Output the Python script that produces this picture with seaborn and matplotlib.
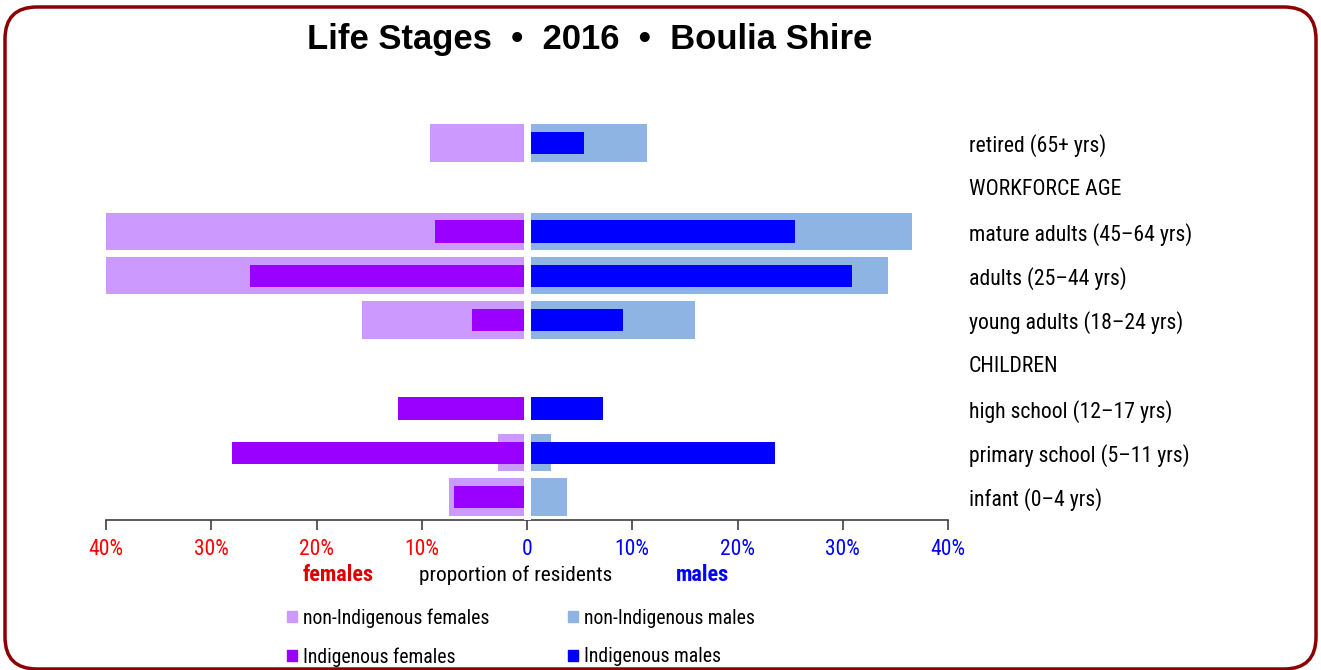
import matplotlib
matplotlib.use("Agg")
import matplotlib.pyplot as plt
from matplotlib.patches import Patch, FancyBboxPatch
import seaborn as sns

categories = ["retired (65+ yrs)", "WORKFORCE AGE", "mature adults (45\u201364 yrs)",
              "adults (25\u201344 yrs)", "young adults (18\u201324 yrs)", "CHILDREN",
              "high school (12\u201317 yrs)", "primary school (5\u201311 yrs)", "infant (0\u20134 yrs)"]
non_indig_females = [9.2, 0, 40.0, 40.0, 15.7, 0, 0, 2.8, 7.4]
indig_females = [0, 0, 8.7, 26.3, 5.2, 0, 12.3, 28.0, 6.9]
non_indig_males = [11.4, 0, 36.6, 34.3, 16.0, 0, 0, 2.3, 3.8]
indig_males = [5.4, 0, 25.5, 30.9, 9.1, 0, 7.2, 23.6, 0]

tick_vals = [-40, -30, -20, -10, 0, 10, 20, 30, 40]
tick_labels = ["40%", "30%", "20%", "10%", "0", "10%", "20%", "30%", "40%"]

c_nif, c_if = "#CC99FF", "#9900FF"
c_nim, c_im = "#8DB4E2", "#0000FF"

sns.set_style("white")
plt.rcParams['font.family'] = ['Roboto Condensed', 'Archivo Narrow', 'DejaVu Sans']
plt.rcParams['text.color'] = 'black'
plt.rcParams['xtick.color'] = 'black'
plt.rcParams['ytick.color'] = 'black'

fig = plt.figure(figsize=(13.21, 6.70), dpi=100)
ax = fig.add_axes([106/1321, 1 - 520/670, (948 - 106)/1321, 400/670])

sns.barplot(x=[-v for v in non_indig_females], y=categories, order=categories, orient="h",
            color=c_nif, width=0.84, errorbar=None, linewidth=0, saturation=1, ax=ax)
sns.barplot(x=non_indig_males, y=categories, order=categories, orient="h",
            color=c_nim, width=0.84, errorbar=None, linewidth=0, saturation=1, ax=ax)
sns.barplot(x=[-v for v in indig_females], y=categories, order=categories, orient="h",
            color=c_if, width=0.5, errorbar=None, linewidth=0, saturation=1, ax=ax)
sns.barplot(x=indig_males, y=categories, order=categories, orient="h",
            color=c_im, width=0.5, errorbar=None, linewidth=0, saturation=1, ax=ax)

# white gap between the two halves
ax.axvline(0, color="white", lw=5, zorder=5)

ax.set_xlim(-40, 40)
ax.set_ylim(8.52, -0.52)
ax.set_xlabel("")
ax.set_ylabel("")

for s in ["top", "left", "right"]:
    ax.spines[s].set_visible(False)
ax.spines["bottom"].set_color("#404040")
ax.spines["bottom"].set_linewidth(1.2)

ax.set_xticks(tick_vals)
ax.set_xticklabels(tick_labels, fontsize=15.5)
for v, t in zip(tick_vals, ax.get_xticklabels()):
    t.set_color("#FF0000" if v < 0 else "#0000FF")
ax.tick_params(axis="x", direction="out", length=7, width=1.2, color="#404040", pad=7, bottom=True)

ax.yaxis.tick_right()
ax.tick_params(axis="y", length=0, pad=15, labelsize=15.7)

fig.text(590/1321, 1 - 40/670, "Life Stages  \u2022  2016  \u2022  Boulia Shire", ha="center", va="center",
         fontsize=24.9, fontweight="bold", family=["Liberation Sans", "DejaVu Sans"])

fig.text(338/1321, 1 - 575/670, "females", ha="center", va="center", fontsize=16,
         fontweight="bold", color="#DD0000")
fig.text(516/1321, 1 - 575/670, "proportion of residents", ha="center", va="center", fontsize=15.4)
fig.text(702/1321, 1 - 575/670, "males", ha="center", va="center", fontsize=16,
         fontweight="bold", color="#0000FF")

handles = [Patch(color=c_nif, label="non-Indigenous females"),
           Patch(color=c_if, label="Indigenous females"),
           Patch(color=c_nim, label="non-Indigenous males"),
           Patch(color=c_im, label="Indigenous males")]
fig.legend(handles=handles, ncol=2, loc="upper left", bbox_to_anchor=(287/1321, 1 - 608/670),
           frameon=False, fontsize=14.2, handlelength=0.5, handleheight=0.5, handletextpad=0.3,
           columnspacing=4.0, labelspacing=1.0, borderpad=0, borderaxespad=0)

border = FancyBboxPatch((0.05, 0.01), 13.11, 6.62, boxstyle="round,pad=0,rounding_size=0.32",
                        transform=fig.dpi_scale_trans, facecolor="none", edgecolor="#8B0000",
                        linewidth=2.5)
fig.patches.append(border)

fig.savefig("out.png", dpi=100)
